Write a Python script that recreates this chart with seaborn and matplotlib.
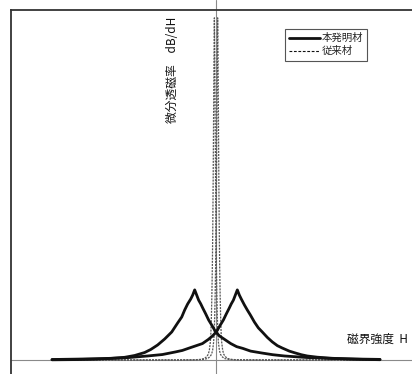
import matplotlib
matplotlib.use("Agg")
import matplotlib.pyplot as plt
from matplotlib.lines import Line2D
import seaborn as sns
import pandas as pd

sns.set_style("white")
plt.rcParams["font.family"] = ["Noto Sans CJK JP", "DejaVu Sans"]

# Differential permeability dB/dH vs. field strength H (relative units)
# --- invention material: ascending / descending branches ---
inv_left_h = [-10.0, -8.62, -7.40, -6.48, -5.57, -4.96, -4.35, -3.98, -3.56, -3.13,
              -2.70, -2.34, -2.09, -1.91, -1.73, -1.54, -1.42, -1.30,
              -1.18, -1.06, -0.93, -0.81, -0.63, -0.45, -0.26, -0.02, 0.22, 0.53,
              0.90, 1.26, 1.63, 2.11, 2.79, 3.46, 4.19, 5.53, 6.93, 8.46, 10.0]
inv_left_mu = [0.06, 0.12, 0.26, 0.44, 0.79, 1.32, 2.19, 3.07, 4.39, 6.14,
               8.19, 10.82, 12.57, 14.62, 16.37, 17.84, 19.0, 20.5,
               19.0, 17.5, 16.4, 15.2, 13.5, 11.7, 10.2, 8.2, 7.0, 6.0,
               4.8, 3.9, 3.4, 2.6, 2.05, 1.55, 1.17, 0.73, 0.47, 0.29, 0.18]

inv_right_h = [-10.0, -8.46, -6.93, -5.53, -4.19, -3.27, -2.48, -2.05, -1.63, -1.26,
               -0.83, -0.47, -0.22, 0.02, 0.26, 0.45, 0.63, 0.81, 0.93, 1.06, 1.18,
               1.30, 1.42, 1.54, 1.73, 1.91, 2.09, 2.34, 2.58, 2.82, 3.13, 3.43,
               3.74, 4.04, 4.47, 4.84, 5.20, 5.57, 6.18, 7.09, 8.01, 8.92, 10.0]
inv_right_mu = [0.15, 0.26, 0.41, 0.64, 1.17, 1.6, 2.35, 2.8, 3.5, 4.1,
                4.8, 6.0, 7.0, 8.2, 10.2, 11.7, 13.5, 15.2, 16.4, 17.5, 19.0,
                20.5, 19.0, 17.84, 16.1, 14.6, 13.2, 11.1, 9.4, 8.2, 6.6, 5.3,
                4.2, 3.5, 2.6, 2.05, 1.55, 1.17, 0.82, 0.50, 0.32, 0.18, 0.09]

# --- conventional material: ascending / descending branches ---
conv_left_h = [-10.0, -2.54, -1.32, -0.954, -0.71, -0.557, -0.466, -0.405, -0.344,
               -0.313, -0.283, -0.252, -0.222, -0.198, -0.173, -0.149, -0.124, -0.10,
               -0.076, -0.051, -0.027, -0.002, 0.022, 0.052, 0.083, 0.113, 0.144,
               0.205, 0.266, 0.357, 0.51, 0.754, 1.12, 2.34, 10.0]
conv_left_mu = [0.0, 0.015, 0.06, 0.18, 0.44, 1.02, 1.75, 2.9, 5.3,
                7.9, 12.3, 19.0, 27.8, 38.0, 52.6, 70.2, 87.7, 100.0,
                87.7, 70.2, 52.6, 38.0, 27.8, 19.0, 12.3, 7.9, 5.3,
                2.9, 1.75, 1.02, 0.44, 0.18, 0.06, 0.015, 0.0]

conv_right_h = [-10.0, -2.34, -1.12, -0.754, -0.51, -0.357, -0.266, -0.205, -0.144,
                -0.113, -0.083, -0.052, -0.022, 0.002, 0.027, 0.051, 0.076, 0.10,
                0.124, 0.149, 0.173, 0.198, 0.222, 0.252, 0.283, 0.313, 0.344,
                0.405, 0.466, 0.557, 0.71, 0.954, 1.32, 2.54, 10.0]
conv_right_mu = conv_left_mu

legend_labels = ["本発明材", "従来材"]
x_label = "磁界強度  H"
y_label = "微分透磁率　dB/dH"

W, H = 412, 374
fig = plt.figure(figsize=(W / 100, H / 100), dpi=100)
ax = fig.add_axes([11 / W, 0, 1 - 11 / W, 364 / H])

# axes through the origin
ax.axhline(0, color="#8a8a8a", lw=0.8, zorder=1)
ax.axvline(0, ymin=0, ymax=H / 364, color="#8a8a8a", lw=0.8, zorder=1, clip_on=False)

conv_style = dict(color="#555555", lw=0.9, linestyle=(0, (1.6, 0.9)))
for hx, mu in [(conv_left_h, conv_left_mu), (conv_right_h, conv_right_mu)]:
    df = pd.DataFrame({"H": hx, "mu": mu})
    sns.lineplot(data=df, x="H", y="mu", ax=ax, estimator=None, sort=False,
                 zorder=2, **conv_style)

for hx, mu in [(inv_left_h, inv_left_mu), (inv_right_h, inv_right_mu)]:
    df = pd.DataFrame({"H": hx, "mu": mu})
    sns.lineplot(data=df, x="H", y="mu", ax=ax, color="#111111", lw=2.0,
                 estimator=None, sort=False, zorder=3)

ax.set_xlim(-12.5, 11.95)
ax.set_ylim(-4.09, 102.3)
ax.set_xticks([])
ax.set_yticks([])
ax.set_xlabel("")
ax.set_ylabel("")
for side in ["right", "bottom"]:
    ax.spines[side].set_visible(False)
for side in ["left", "top"]:
    ax.spines[side].set_color("#333333")
    ax.spines[side].set_linewidth(1.3)

handles = [Line2D([], [], color="#111111", lw=2.0),
           Line2D([], [], color="#111111", lw=0.8, linestyle=(0, (2.5, 1.5)))]
leg = ax.legend(handles, legend_labels, loc="upper left",
                bbox_to_anchor=(285 / W, 1 - 29 / H), bbox_transform=fig.transFigure,
                borderaxespad=0, fontsize=7.5, handlelength=3.0, handletextpad=0.1,
                borderpad=0.4, labelspacing=0.3, fancybox=False, framealpha=1)
leg.get_frame().set_edgecolor("#555555")
leg.get_frame().set_linewidth(0.8)

fig.text(173 / W, 1 - 70 / H, y_label, rotation=90, ha="center", va="center",
         fontsize=8.5, color="#111111")
fig.text(347 / W, 1 - 339 / H, x_label, ha="left", va="center",
         fontsize=8.5, color="#111111")

fig.savefig("out.png", dpi=100)
